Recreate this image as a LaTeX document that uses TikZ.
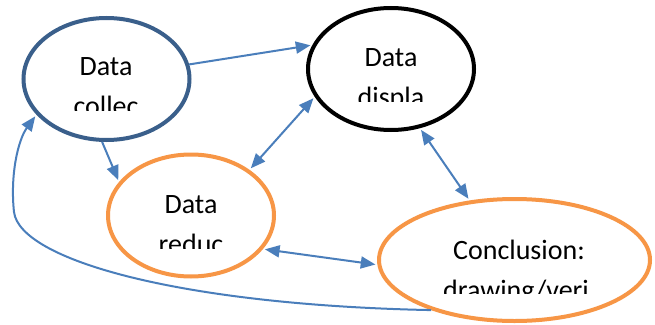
\documentclass[tikz,border=0pt]{standalone}
\usepackage{fontspec}
\setmainfont{Carlito}
\usetikzlibrary{shapes.geometric,arrows.meta}
\definecolor{navy}{HTML}{3A5F8B}
\definecolor{arrowblue}{HTML}{4A7EBB}
\definecolor{orng}{HTML}{F79646}
\begin{document}
\begin{tikzpicture}[x=0.75pt,y=-0.75pt,
  bub/.style={ellipse, draw, line width=3pt, fill=white, inner sep=0pt,
    minimum width=124.5pt, minimum height=91.5pt},
  lbl/.style={anchor=base, inner sep=0pt, font=\fontsize{21}{25}\selectfont},
  con/.style={draw=arrowblue, line width=1.5pt, shorten >=1.5pt,
    -{Triangle[length=11pt,width=9pt]}},
  dcon/.style={con, shorten <=1.5pt,
    {Triangle[length=11pt,width=9pt]}-{Triangle[length=11pt,width=9pt]}}]
\useasboundingbox (0,0) rectangle (655,324);

\node[bub, draw=navy] (dc) at (106.5,79) {};
\node[bub, draw=black] (dd) at (391,69) {};
\node[bub, draw=orng] (dr) at (191,215.5) {};
\node[bub, draw=orng, minimum width=203.25pt] (cc) at (514.5,260) {};

\begin{scope}
\clip (20,20) rectangle (195,111);
\node[lbl] (dct1) at (106,76) {Data};
\node[lbl] (dct2) at (106,116) {collec};
\end{scope}
\begin{scope}
\clip (305,10) rectangle (478,102);
\node[lbl] (ddt1) at (391,67) {Data};
\node[lbl] (ddt2) at (391,107) {displa};
\end{scope}
\begin{scope}
\clip (105,160) rectangle (278,248);
\node[lbl] (drt1) at (191,213) {Data};
\node[lbl] (drt2) at (191,253) {reduc};
\end{scope}
\begin{scope}
\clip (380,200) rectangle (650,293);
\node[lbl] (cct1) at (519,259) {Conclusion:};
\node[lbl] (cct2) at (516,299) {drawing/veri};
\end{scope}

\draw[con] (dc.10.2) -- (dd.163.5);
\draw[dcon] (dd.200.2) -- (dr.38.4);
\draw[con] (dc.266.8) -- (dr.155.4);
\draw[dcon] (dd.296.9) -- (cc.127);
\draw[dcon] (dr.335.2) -- (cc.182.5);
\coordinate (bend) at (14,212);
\draw[con] (cc.211.5) .. controls (180,305) and (20,260) .. (bend)
  .. controls (10,175) and (18,140) .. (dc.207.3);
\end{tikzpicture}
\end{document}
